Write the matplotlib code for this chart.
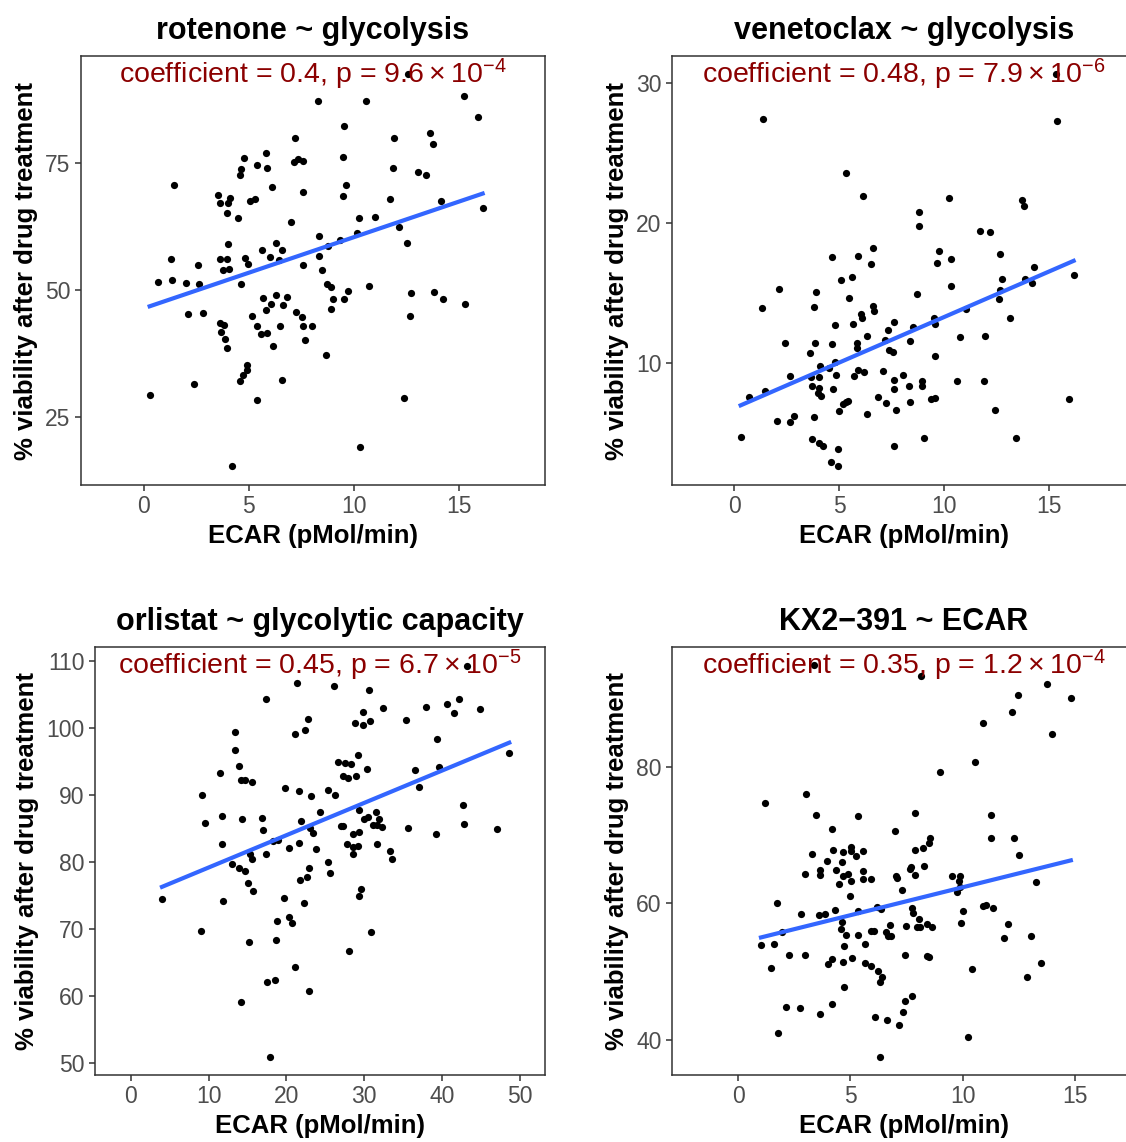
import numpy as np
import matplotlib
matplotlib.use("Agg")
import matplotlib.pyplot as plt

plt.rcParams["font.family"] = ["Liberation Sans", "DejaVu Sans"]
plt.rcParams["mathtext.fontset"] = "custom"
plt.rcParams["mathtext.rm"] = "Liberation Sans"
plt.rcParams["mathtext.default"] = "regular"

# ----------------------------
# Data
# ----------------------------
rot_ecar = [12.59, 8.29, 10.57, 15.25, 15.92, 9.54, 7.19, 11.9, 13.6, 13.78, 4.76, 5.83, 5.4, 5.86,
            4.63, 4.56, 7.13, 7.35, 7.56, 9.46, 11.87, 13.06, 13.41, 1.44, 6.1, 9.62, 9.49, 7.57,
            3.54, 3.62, 4.08, 4.02, 5.03, 5.27, 3.94, 4.46, 7.0, 11.7, 14.13, 16.13, 10.25, 11.0,
            12.14, 10.14, 8.32, 9.32, 8.75, 12.54, 4.0, 6.29, 5.62, 6.56, 6.0, 6.44, 8.33, 1.3,
            3.63, 3.97, 4.79, 4.95, 2.59, 3.75, 4.06, 7.59, 8.49, 0.68, 1.35, 2.01, 2.62, 4.62,
            8.71, 8.92, 9.71, 10.7, 12.7, 13.8, 14.24, 15.3, 12.65, 5.65, 6.27, 6.81, 6.05, 6.6,
            5.79, 9.02, 9.52, 8.9, 7.25, 7.54, 7.56, 8.0, 7.65, 2.11, 2.8, 5.16, 6.49, 5.4, 5.59,
            5.86, 6.13, 3.63, 3.79, 3.67, 3.87, 3.97, 8.65, 4.89, 4.9, 4.73, 4.59, 6.57, 2.38,
            0.27, 5.37, 12.38, 10.27, 4.19]
rot_viab = [92.5, 87.3, 87.3, 88.2, 84.1, 82.3, 80.0, 79.9, 81.0, 78.7, 76.1, 76.9, 74.7, 74.1,
            73.8, 72.6, 75.3, 75.8, 75.4, 76.2, 74.1, 73.2, 72.6, 70.6, 70.3, 70.7, 68.6, 69.4,
            68.8, 67.2, 68.2, 67.2, 67.5, 68.0, 65.2, 64.1, 63.5, 67.9, 67.5, 66.2, 64.1, 64.4,
            62.5, 61.3, 60.6, 59.8, 58.7, 59.3, 59.0, 59.2, 57.8, 57.9, 56.6, 55.9, 56.8, 56.2,
            56.1, 56.2, 56.4, 55.2, 54.9, 54.0, 54.1, 55.0, 53.9, 51.5, 52.0, 51.4, 51.2, 51.2,
            51.2, 50.6, 49.9, 50.7, 49.4, 49.7, 48.3, 47.2, 44.9, 48.4, 49.1, 48.6, 47.2, 47.1,
            46.1, 48.2, 48.2, 46.2, 45.7, 44.7, 43.0, 43.0, 40.2, 45.2, 45.5, 44.8, 42.9, 42.9,
            41.3, 41.5, 39.0, 43.6, 43.2, 41.7, 40.4, 38.6, 37.2, 35.3, 34.3, 33.2, 32.1, 32.3,
            31.4, 29.3, 28.3, 28.8, 19.1, 15.4]

ven_ecar = [15.32, 1.38, 15.35, 5.32, 6.13, 10.21, 13.68, 13.81, 8.78, 8.78, 11.71, 12.17, 6.59,
            4.65, 5.89, 6.51, 9.76, 9.67, 10.3, 12.65, 14.27, 16.16, 12.75, 13.83, 14.17, 10.32,
            5.06, 5.62, 2.14, 3.89, 8.7, 5.44, 12.67, 12.59, 1.33, 3.78, 6.62, 6.63, 6.05, 6.08,
            4.78, 5.65, 7.62, 7.3, 8.52, 9.49, 9.54, 11.05, 13.11, 6.3, 5.83, 5.86, 7.16, 7.35,
            7.57, 8.37, 10.73, 11.94, 9.57, 2.41, 3.83, 4.63, 3.59, 4.1, 4.49, 4.79, 2.63, 3.65,
            4.03, 4.83, 5.7, 5.89, 6.16, 7.06, 8.03, 7.59, 7.62, 8.33, 8.94, 8.94, 10.62, 11.9,
            0.71, 1.46, 3.71, 4.05, 3.98, 4.13, 4.68, 6.84, 7.24, 8.37, 9.37, 9.57, 5.16, 5.32,
            5.43, 4.97, 7.68, 6.32, 2.05, 2.65, 2.83, 3.81, 12.43, 15.95, 13.43, 9.05, 0.3, 3.7,
            4.02, 4.22, 4.94, 7.6, 4.59, 4.92]
ven_viab = [30.6, 27.42, 27.25, 23.51, 21.87, 21.75, 21.59, 21.16, 20.76, 19.76, 19.41, 19.36,
            18.22, 17.51, 17.63, 17.04, 17.99, 17.09, 17.39, 17.75, 16.8, 16.28, 15.95, 15.95,
            15.69, 15.47, 15.88, 16.11, 15.28, 15.05, 14.88, 14.64, 15.19, 14.55, 13.93, 14.0,
            14.08, 13.72, 13.48, 13.2, 12.68, 12.73, 12.87, 12.32, 12.51, 13.2, 12.73, 13.82,
            13.18, 11.9, 11.42, 11.07, 11.64, 10.88, 10.73, 11.52, 11.82, 11.92, 10.5, 11.4, 11.4,
            11.3, 10.66, 9.76, 9.62, 10.07, 9.08, 8.98, 8.98, 9.12, 9.08, 9.45, 9.31, 9.38, 9.12,
            8.74, 8.13, 8.34, 8.67, 8.32, 8.7, 8.67, 7.56, 7.94, 8.36, 8.18, 7.84, 7.63, 8.13,
            7.58, 7.11, 7.18, 7.39, 7.46, 7.01, 7.16, 7.23, 6.52, 6.61, 6.33, 5.85, 5.78, 6.21,
            6.09, 6.61, 7.39, 4.64, 4.64, 4.67, 4.57, 4.24, 4.08, 3.86, 4.08, 2.89, 2.63]

orl_ecar = [43.22, 21.35, 26.14, 30.64, 17.33, 40.65, 42.19, 37.91, 41.55, 44.8, 32.35, 29.82,
            28.75, 29.87, 30.77, 35.39, 22.81, 22.38, 21.05, 13.44, 13.44, 39.28, 29.23, 11.51,
            13.91, 26.57, 27.47, 28.28, 30.3, 36.46, 39.62, 48.61, 27.3, 27.94, 28.88, 14.12,
            14.63, 15.58, 19.83, 21.57, 25.37, 26.23, 23.15, 36.97, 9.11, 42.7, 24.35, 29.27,
            9.54, 11.77, 14.33, 16.82, 16.94, 21.91, 22.98, 23.41, 26.96, 27.3, 29.95, 30.51,
            31.54, 31.88, 31.06, 31.66, 32.26, 35.64, 42.75, 47.03, 39.24, 28.58, 29.35, 18.23,
            18.87, 11.68, 21.57, 20.33, 23.79, 17.37, 15.36, 15.58, 27.77, 28.5, 29.23, 28.58,
            31.66, 33.29, 33.5, 12.97, 13.86, 14.63, 15.02, 15.75, 22.85, 22.64, 21.74, 25.33,
            25.59, 4.02, 11.9, 19.64, 22.29, 29.52, 29.35, 20.28, 20.75, 18.83, 9.07, 15.23,
            18.7, 30.89, 28.07, 21.05, 17.46, 18.53, 22.94, 14.21, 17.93]
orl_viab = [109.25, 106.77, 106.32, 105.73, 104.39, 103.64, 104.34, 103.09, 102.2, 102.9, 102.95,
            102.35, 100.81, 100.46, 101.01, 101.16, 101.31, 99.72, 99.17, 99.42, 96.74, 98.33,
            95.94, 93.36, 94.4, 95.0, 94.75, 94.6, 93.9, 93.76, 94.2, 96.29, 92.86, 92.61, 92.86,
            92.27, 92.32, 91.92, 91.07, 90.63, 90.78, 90.08, 89.88, 91.22, 90.08, 88.54, 87.55,
            87.79, 85.81, 86.85, 86.45, 86.6, 84.76, 86.2, 85.16, 84.42, 85.36, 85.36, 86.4, 86.75,
            87.45, 86.45, 85.51, 85.51, 85.31, 85.16, 85.66, 85.01, 84.17, 84.22, 84.47, 83.22,
            83.27, 82.73, 82.93, 82.13, 81.93, 81.24, 81.29, 80.49, 82.73, 82.33, 82.43, 81.24,
            82.73, 81.73, 80.54, 79.8, 79.15, 78.75, 76.87, 75.72, 79.2, 77.76, 77.36, 80.09,
            78.35, 74.48, 74.18, 74.68, 73.98, 75.97, 74.93, 71.9, 70.95, 71.25, 69.81, 68.12,
            68.47, 69.61, 66.78, 64.35, 62.11, 62.46, 60.82, 59.13, 50.98]

kx_ecar = [3.37, 8.16, 13.75, 14.81, 12.48, 12.17, 10.91, 13.95, 10.56, 8.98, 3.01, 1.22, 3.49,
           5.36, 7.86, 11.26, 4.18, 6.97, 8.56, 8.49, 8.23, 7.86, 11.25, 12.26, 12.51, 3.31, 4.24,
           4.66, 5.01, 5.01, 5.24, 5.58, 3.98, 4.63, 3.66, 3.65, 4.36, 2.98, 4.69, 4.9, 5.03, 5.55,
           5.57, 5.91, 4.48, 4.99, 7.02, 7.09, 7.67, 7.7, 7.86, 8.29, 7.31, 9.5, 9.88, 9.85, 9.76,
           9.88, 13.28, 1.74, 2.82, 3.61, 3.87, 4.3, 4.64, 4.57, 4.82, 5.33, 6.19, 6.35, 7.72, 7.8,
           8.04, 8.09, 8.42, 8.62, 7.97, 7.49, 6.74, 5.93, 6.07, 5.36, 6.57, 6.66, 6.82, 10.0,
           9.91, 10.92, 11.05, 11.36, 12.03, 11.84, 13.03, 1.94, 1.02, 1.6, 2.28, 2.98, 3.99, 4.2,
           4.7, 4.69, 5.07, 5.64, 5.65, 5.91, 6.23, 6.42, 6.31, 7.45, 8.4, 8.49, 4.7, 1.45, 10.4,
           13.5, 12.86, 2.15, 2.76, 3.64, 4.17, 6.08, 6.63, 7.17, 7.33, 7.45, 7.73, 1.77, 10.24,
           6.31]
kx_viab = [94.88, 93.32, 92.1, 90.1, 90.44, 88.0, 86.44, 84.73, 80.73, 79.27, 76.05, 74.63, 72.93,
           72.83, 73.17, 72.93, 70.93, 70.59, 69.61, 68.88, 68.05, 67.76, 69.51, 69.61, 67.12,
           67.17, 67.85, 67.46, 68.24, 67.66, 66.98, 67.66, 66.24, 66.0, 64.88, 64.1, 64.88, 64.34,
           64.05, 64.24, 63.32, 64.68, 63.56, 63.51, 62.88, 61.12, 63.95, 63.76, 65.07, 65.27,
           64.1, 65.41, 61.95, 64.0, 64.0, 63.32, 61.71, 62.39, 63.12, 60.1, 58.44, 58.24, 58.44,
           58.98, 57.32, 56.24, 55.41, 58.88, 59.41, 59.22, 59.37, 58.63, 57.71, 56.54, 56.93,
           56.49, 56.54, 56.63, 56.88, 55.95, 55.9, 55.41, 55.76, 55.27, 55.27, 58.83, 57.07,
           59.56, 59.76, 59.37, 56.93, 54.98, 55.17, 55.85, 53.85, 54.0, 52.44, 52.49, 51.17,
           51.9, 53.8, 51.41, 52.05, 54.0, 51.22, 50.78, 50.1, 49.17, 48.49, 52.49, 52.34, 52.15,
           47.8, 50.59, 50.39, 51.22, 49.22, 44.88, 44.68, 43.76, 45.32, 43.32, 42.88, 42.15,
           44.05, 45.71, 46.39, 41.07, 40.39, 37.56]

# fitted lm lines as drawn in the figure: (y at min ECAR, y at max ECAR)
fit_ends = [(46.8, 69.0), (6.95, 17.27), (76.32, 97.83), (55.02, 66.29)]

titles = ["rotenone ~ glycolysis", "venetoclax ~ glycolysis",
          "orlistat ~ glycolytic capacity", "KX2\u2212391 ~ ECAR"]
annotations = [r"coefficient = 0.4, p = $9.6\times10^{-4}$",
               r"coefficient = 0.48, p = $7.9\times10^{-6}$",
               r"coefficient = 0.45, p = $6.7\times10^{-5}$",
               r"coefficient = 0.35, p = $1.2\times10^{-4}$"]
x_ticks = [[0, 5, 10, 15], [0, 5, 10, 15], [0, 10, 20, 30, 40, 50], [0, 5, 10, 15]]
y_ticks = [[25, 50, 75], [10, 20, 30], [50, 60, 70, 80, 90, 100, 110], [40, 60, 80]]
x_lims = [(-3.0, 19.1), (-2.97, 19.13), (-4.58, 53.2), (-2.94, 17.71)]
y_lims = [(11.6, 96.1), (1.26, 31.9), (48.26, 112.1), (34.9, 97.5)]

XLABEL = "ECAR (pMol/min)"
YLABEL = "% viability after drug treatment"

# ----------------------------
# Layout (pixel boxes -> figure fractions)
# ----------------------------
W, H = 1126, 1142
boxes = [(81, 56, 464, 429), (672, 56, 464, 429), (95, 647, 450, 428), (672, 647, 464, 428)]

fig = plt.figure(figsize=(W / 100, H / 100), dpi=100)

panels = [(rot_ecar, rot_viab), (ven_ecar, ven_viab), (orl_ecar, orl_viab), (kx_ecar, kx_viab)]

for i, (xs, ys) in enumerate(panels):
    left, top, w, h = boxes[i]
    ax = fig.add_axes([left / W, 1 - (top + h) / H, w / W, h / H])
    xs = np.asarray(xs)
    ys = np.asarray(ys)

    ax.scatter(xs, ys, s=27, color="black", linewidths=0, zorder=3)
    ax.plot([xs.min(), xs.max()], fit_ends[i], color="#3366FF", linewidth=3, zorder=4)

    ax.set_xlim(*x_lims[i])
    ax.set_ylim(*y_lims[i])
    ax.set_xticks(x_ticks[i])
    ax.set_yticks(y_ticks[i])

    for sp in ax.spines.values():
        sp.set_color("#333333")
        sp.set_linewidth(1.1)
    ax.tick_params(direction="out", length=4, width=1.1, color="#333333",
                   labelcolor="#4D4D4D", labelsize=16.5, pad=3.5)

    ax.set_title(titles[i], fontsize=22, fontweight="bold", pad=12)
    ax.set_xlabel(XLABEL, fontsize=18.5, fontweight="bold", labelpad=4)
    ax.set_ylabel(YLABEL, fontsize=18.5, fontweight="bold", labelpad=5)

    ax.text(0.5, 1 - 27.5 / h, annotations[i], transform=ax.transAxes, ha="center",
            va="baseline", fontsize=20.5, color="#8B0000", zorder=5)

fig.savefig("out.png", dpi=100)
